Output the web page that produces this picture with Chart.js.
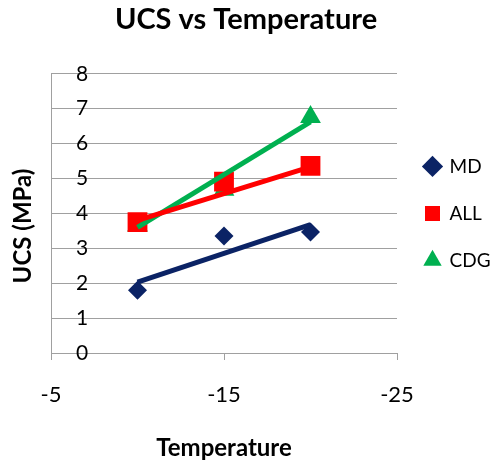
<!DOCTYPE html>
<html>
<head>
<meta charset="utf-8">
<script src="https://cdn.jsdelivr.net/npm/chart.js@4"></script>
<style>
  html, body { margin: 0; padding: 0; background: #fff; }
  #wrap { width: 492px; height: 463px; }
</style>
</head>
<body>
<div id="wrap"><canvas id="grafico" width="492" height="463"></canvas></div>
<script>
// datos
const temperaturas = [-10, -15, -20];
const valoresMD = [1.8, 3.35, 3.47];
const valoresALL = [3.75, 4.91, 5.36];
const valoresCDG = [3.65, 4.68, 6.76];

// lineas de tendencia (extremos en -10 y -20)
const tempTendencia = [-10, -20];
const tendenciaMD = [2.03, 3.68];
const tendenciaALL = [3.8, 5.33];
const tendenciaCDG = [3.6, 6.62];

const ticksY = [0, 1, 2, 3, 4, 5, 6, 7, 8];

const azul = '#0b2365';
const rojo = '#ff0000';
const verde = '#00b050';
const gris = '#a0a0a0';
const fuente = 'Lato, "Open Sans", sans-serif';

function puntos(xs, ys) {
  return xs.map((x, i) => ({ x: x, y: ys[i] }));
}

function serie(label, ys, color, estilo, radio) {
  return {
    label: label,
    data: puntos(temperaturas, ys),
    showLine: false,
    pointStyle: estilo,
    pointRadius: radio,
    pointHoverRadius: radio,
    backgroundColor: color,
    borderColor: color,
    pointBorderWidth: 0,
    order: 1
  };
}

function tendencia(label, ys, color) {
  return {
    label: label,
    data: puntos(tempTendencia, ys),
    showLine: true,
    borderColor: color,
    borderWidth: 5,
    pointRadius: 0,
    fill: false,
    order: 0
  };
}

// titulo del eje Y: en el original queda algo mas abajo que el centro del eje
const tituloEjeY = {
  id: 'tituloEjeY',
  afterDraw(chart) {
    const ctx = chart.ctx;
    ctx.save();
    ctx.translate(23, 226);
    ctx.rotate(-Math.PI / 2);
    ctx.font = 'bold 24px ' + fuente;
    ctx.fillStyle = '#000';
    ctx.textAlign = 'center';
    ctx.textBaseline = 'middle';
    ctx.fillText('UCS (MPa)', 0, 0);
    ctx.restore();
  }
};

new Chart(document.getElementById('grafico'), {
  type: 'scatter',
  data: {
    datasets: [
      serie('MD', valoresMD, azul, 'rectRot', 9.5),
      serie('ALL', valoresALL, rojo, 'rect', 14),
      serie('CDG', valoresCDG, verde, 'triangle', 12),
      tendencia('tendMD', tendenciaMD, azul),
      tendencia('tendALL', tendenciaALL, rojo),
      tendencia('tendCDG', tendenciaCDG, verde)
    ]
  },
  options: {
    responsive: false,
    animation: false,
    layout: { padding: 0 },
    plugins: {
      title: {
        display: true,
        text: 'UCS vs Temperature',
        color: '#000',
        font: { family: fuente, size: 29, weight: 'bold', lineHeight: 1.2 },
        padding: { top: 2, bottom: 37 }
      },
      legend: {
        position: 'right',
        fullSize: false,
        maxWidth: 95,
        labels: {
          usePointStyle: true,
          boxWidth: 15,
          boxHeight: 15,
          padding: 28,
          color: '#000',
          font: { family: fuente, size: 19 },
          filter: item => !item.text.startsWith('tend')
        }
      },
      tooltip: { enabled: false }
    },
    scales: {
      x: {
        type: 'linear',
        min: -25,
        max: -5,
        reverse: true,
        afterFit: eje => { eje.height = 110; },
        ticks: {
          stepSize: 10,
          color: '#000',
          padding: 22,
          font: { family: fuente, size: 22 }
        },
        grid: { drawOnChartArea: false, drawTicks: true, tickLength: 7, color: gris },
        border: { color: gris },
        title: {
          display: true,
          text: 'Temperature',
          color: '#000',
          font: { family: fuente, size: 24, weight: 'bold', lineHeight: 1.2 },
          padding: { top: 25, bottom: 0 }
        }
      },
      y: {
        min: 0,
        max: 8,
        afterFit: eje => { eje.width = 51; },
        afterBuildTicks: eje => { eje.ticks = ticksY.map(v => ({ value: v })); },
        ticks: {
          mirror: true,
          padding: 25,
          color: '#000',
          font: { family: fuente, size: 21 }
        },
        grid: { drawTicks: false, color: gris },
        border: { color: gris },
        title: { display: false }
      }
    }
  },
  plugins: [tituloEjeY]
});
</script>
</body>
</html>
